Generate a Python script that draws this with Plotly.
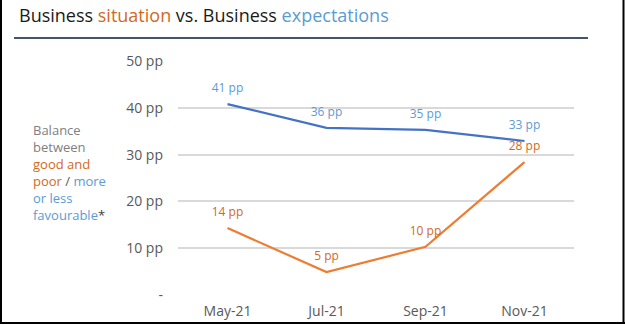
import plotly.graph_objects as go

# Survey months and balances (percentage points)
months = ["May-21", "Jul-21", "Sep-21", "Nov-21"]
expectations = [40.8, 35.7, 35.3, 32.9]
situation = [14.3, 4.9, 10.3, 28.4]
tick_values = [0, 10, 20, 30, 40, 50]
tick_labels = ["-", "10 pp", "20 pp", "30 pp", "40 pp", "50 pp"]

W, H = 625, 325
L, R, T, B = 178, 51, 61, 30
FONT = "Open Sans, Noto Sans, sans-serif"

BLUE_LINE = "#4472c4"
BLUE_TEXT = "#5b9bd5"
ORANGE_LINE = "#ed7d31"
ORANGE_TEXT = "#d2691e"


def px(x):
    return (x - L) / (W - L - R)


def py(y):
    return (H - B - y) / (H - T - B)


def series(values, line_color, text_color):
    return go.Scatter(
        x=months, y=values, mode="lines+markers+text",
        line=dict(color=line_color, width=2.2),
        marker=dict(size=13, color="rgba(0,0,0,0)"),
        text=values, texttemplate="%{y:.0f} pp", textposition="top center",
        textfont=dict(color=text_color, size=12, family=FONT),
        cliponaxis=False, hoverinfo="skip",
    )


fig = go.Figure()
fig.add_trace(series(expectations, BLUE_LINE, BLUE_TEXT))
fig.add_trace(series(situation, ORANGE_LINE, ORANGE_TEXT))

fig.update_layout(
    width=W, height=H,
    margin=dict(l=L, r=R, t=T, b=B, autoexpand=False),
    paper_bgcolor="white", plot_bgcolor="white",
    showlegend=False,
    font=dict(family=FONT, color="#595959", size=14),
    xaxis=dict(
        type="category", range=[-0.5, 3.5], showgrid=False, zeroline=False,
        showline=False, ticks="", ticklabelstandoff=6, automargin=False,
        tickfont=dict(size=14, color="#595959"),
    ),
    yaxis=dict(
        range=[0, 50], tickvals=tick_values, ticktext=tick_labels,
        showgrid=True, gridcolor="#d9d9d9", gridwidth=1.5, zeroline=False,
        showline=False, ticks="", ticklabelstandoff=14, automargin=False,
        tickfont=dict(size=14, color="#595959"),
    ),
)

# Title
fig.add_annotation(
    xref="paper", yref="paper", x=px(17), y=py(15), xanchor="left", yanchor="middle",
    showarrow=False,
    text=("<span style='color:#1a1a1a'>Business </span>"
          f"<span style='color:{ORANGE_TEXT}'>situation</span>"
          "<span style='color:#1a1a1a'> vs. Business </span>"
          f"<span style='color:{BLUE_TEXT}'>expectations</span>"),
    font=dict(size=18, family=FONT),
)

# Header rule
fig.add_shape(type="line", xref="paper", yref="paper",
              x0=px(14), x1=px(588), y0=py(38), y1=py(38),
              line=dict(color="#44546a", width=2))

# Side caption
fig.add_annotation(
    xref="paper", yref="paper", x=px(31), y=py(172), xanchor="left", yanchor="middle",
    align="left", showarrow=False,
    text=("<span style='color:#808080'>Balance<br>between</span><br>"
          f"<span style='color:{ORANGE_TEXT}'>good and<br>poor</span>"
          "<span style='color:#595959'> / </span>"
          f"<span style='color:{BLUE_TEXT}'>more<br>or less<br>favourable</span>"
          "<span style='color:#404040'>*</span>"),
    font=dict(size=13, family=FONT),
)

# Frame on left, right and bottom
for x0, y0, x1, y1 in [(1, 0, 1, 323), (623.5, 0, 623.5, 323), (0, 323, 625, 323)]:
    fig.add_shape(type="line", xref="paper", yref="paper",
                  x0=px(x0), x1=px(x1), y0=py(y0), y1=py(y1),
                  line=dict(color="black", width=2))

fig.write_html("out.html")
